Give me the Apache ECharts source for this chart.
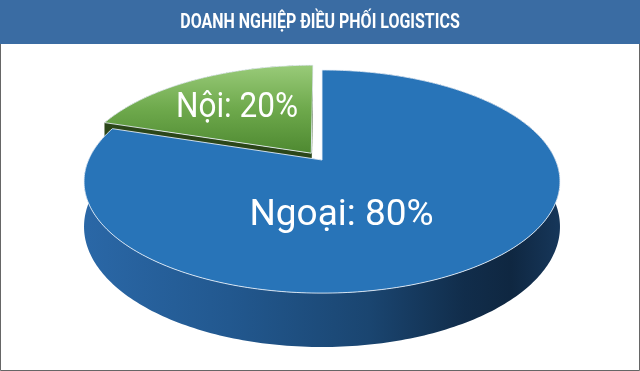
<!DOCTYPE html>
<html><head><meta charset="utf-8">
<script src="https://cdn.jsdelivr.net/npm/echarts@6/dist/echarts.min.js"></script>
<style>html,body{margin:0;padding:0;background:#fff}#chart{width:640px;height:371px}</style>
</head><body><div id="chart"></div>
<script>
// ---- data ----
const titleText = 'DOANH NGHIỆP ĐIỀU PHỐI LOGISTICS';
const categories = ['Ngoại', 'Nội'];
const values = [80, 20];

// ---- layout / style ----
const total = values.reduce((a, b) => a + b, 0);
const geo = { cx: 322, cy: 160, R: 233.5, cosA: 0.46, sinA: 0.888, D: 1074, H: 43.5 };
const startAngle = -90; // 12 o'clock, clockwise
const explode = { 'Nội': 18.5 };
const labelLayout = {
  'Ngoại': { dx: 19.5, dy: 56, fontSize: 37, scaleX: 1.0 },
  'Nội':   { dx: -85, dy: -51.5, fontSize: 35, scaleX: 0.9 }
};
const sliceStyle = {
  'Ngoại': {
    top: '#2874b8',
    wall: { type: 'linear', x: 88, y: 0, x2: 558, y2: 0, global: true, colorStops: [
      { offset: 0, color: '#2a67a6' }, { offset: 0.3, color: '#22588f' },
      { offset: 0.6, color: '#1a4570' }, { offset: 0.8, color: '#112d4b' },
      { offset: 0.9, color: '#0f2741' }, { offset: 1, color: '#163659' }] },
    radial: '#1d4e82'
  },
  'Nội': {
    top: { type: 'linear', x: 0, y: 62, x2: 0, y2: 156, global: true, colorStops: [
      { offset: 0, color: '#9ccd7c' }, { offset: 0.5, color: '#6ea94c' }, { offset: 1, color: '#4c872f' }] },
    wall: '#2a4418',
    radial: '#2b4619'
  }
};

function proj(u, v, down) {
  const s = geo.D / (geo.D - v * geo.sinA);
  return [geo.cx + u * s, geo.cy + (v * geo.cosA + down) * s];
}

function renderItem(params, api) {
  const i = params.dataIndex;
  const val = api.value(0);
  const cat = categories[i];
  let cum = 0;
  for (let k = 0; k < i; k++) cum += values[k];
  const a0 = (startAngle + 360 * cum / total) * Math.PI / 180;
  const a1 = (startAngle + 360 * (cum + val) / total) * Math.PI / 180;
  const mid = (a0 + a1) / 2;
  const off = explode[cat] || 0;
  const ox = off * Math.cos(mid), oy = off * Math.sin(mid);
  const rim = (a, d) => proj(ox + geo.R * Math.cos(a), oy + geo.R * Math.sin(a), d);
  const ctr = (d) => proj(ox, oy, d);
  const n = Math.max(2, Math.ceil(Math.abs(a1 - a0) / (Math.PI / 180)));
  const topRim = [], botRim = [];
  for (let k = 0; k <= n; k++) {
    const a = a0 + (a1 - a0) * k / n;
    topRim.push(rim(a, 0));
    botRim.push(rim(a, geo.H));
  }
  const st = sliceStyle[cat];
  const base = Math.round((Math.sin(mid) + 1) * 10) * 10;
  const wall = topRim.concat(botRim.slice().reverse());
  const rad0 = [ctr(0), rim(a0, 0), rim(a0, geo.H), ctr(geo.H)];
  const rad1 = [ctr(0), rim(a1, 0), rim(a1, geo.H), ctr(geo.H)];
  const top = [ctr(0)].concat(topRim);
  const lab = labelLayout[cat];
  const pct = Math.round(val / total * 100);
  return {
    type: 'group',
    children: [
      { type: 'polygon', z2: base + 1, shape: { points: wall }, style: { fill: st.wall } },
      { type: 'polygon', z2: base + 2, shape: { points: rad0 }, style: { fill: st.radial } },
      { type: 'polygon', z2: base + 2, shape: { points: rad1 }, style: { fill: st.radial } },
      { type: 'polygon', z2: base + 3, shape: { points: top },
        style: { fill: st.top, stroke: 'rgba(235,242,250,0.85)', lineWidth: 1 } },
      { type: 'text', z2: 500, x: geo.cx + lab.dx, y: geo.cy + lab.dy, scaleX: lab.scaleX,
        style: { text: cat + ': ' + pct + '%', fill: '#ffffff',
                 font: lab.fontSize + 'px Roboto', align: 'center', verticalAlign: 'middle' } }
    ]
  };
}

const chart = echarts.init(document.getElementById('chart'), null, { renderer: 'canvas' });
chart.setOption({
  animation: false,
  backgroundColor: '#ffffff',
  graphic: [
    { type: 'rect', z: 0, shape: { x: 0.5, y: 0.5, width: 639, height: 370 },
      style: { fill: '#ffffff', stroke: '#666666', lineWidth: 1 } },
    { type: 'rect', z: 1, shape: { x: 0, y: 0, width: 640, height: 44 }, style: { fill: '#3a6ca3' } },
    { type: 'text', z: 2, x: 320, y: 23, scaleX: 0.82,
      style: { text: titleText, fill: '#ffffff', font: 'bold 19.5px Roboto', align: 'center', verticalAlign: 'middle' } }
  ],
  series: [{
    type: 'custom',
    coordinateSystem: 'none',
    renderItem: renderItem,
    data: values.map((v, i) => ({ name: categories[i], value: v }))
  }]
});
</script></body></html>
